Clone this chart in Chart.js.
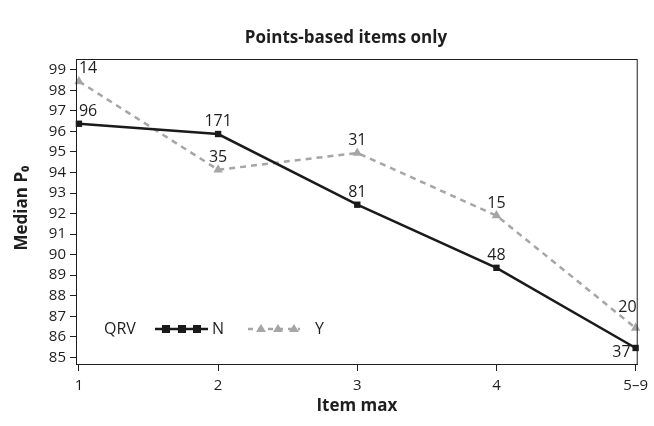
<!DOCTYPE html>
<html>
<head>
<meta charset="utf-8">
<script src="https://cdn.jsdelivr.net/npm/chart.js@4"></script>
<style>
  html, body { margin: 0; padding: 0; background: #fff; }
  #wrap { width: 654px; height: 426px; }
</style>
</head>
<body>
<div id="wrap"><canvas id="chart" width="654" height="426"></canvas></div>
<script>
const categories = ['1', '2', '3', '4', '5\u20139'];
const yTicks = [85, 86, 87, 88, 89, 90, 91, 92, 93, 94, 95, 96, 97, 98, 99];

// median P0, QRV = N
const medianN = [96.37, 95.87, 92.43, 89.36, 85.46];
const countN = [96, 171, 81, 48, 37];

// median P0, QRV = Y
const medianY = [98.43, 94.13, 94.95, 91.9, 86.43];
const countY = [14, 35, 31, 15, 20];

const FONT = '"Open Sans", "Noto Sans", sans-serif';
const INK = '#1e1e1e';

function toPoints(values) {
    return values.map((v, i) => ({ x: i + 1, y: v }));
}

// counts above the markers, box, title, legend
const extras = {
    id: 'extras',
    afterDatasetsDraw(chart) {
        const ctx = chart.ctx;
        const area = chart.chartArea;
        ctx.save();

        ctx.strokeStyle = INK;
        ctx.lineWidth = 1;
        ctx.strokeRect(area.left + 0.5, area.top + 0.5, area.right - area.left - 1, area.bottom - area.top);

        ctx.fillStyle = INK;
        ctx.font = '16px ' + FONT;
        chart.data.datasets.forEach((ds, di) => {
            const meta = chart.getDatasetMeta(di);
            meta.data.forEach((pt, i) => {
                const last = i === meta.data.length - 1;
                let x = pt.x, y = pt.y - 8;
                ctx.textAlign = 'center';
                ctx.textBaseline = 'alphabetic';
                if (i === 0) {
                    ctx.textAlign = 'left';
                    x = pt.x;
                } else if (last && ds.lastLabel === 'left') {
                    ctx.textAlign = 'right';
                    ctx.textBaseline = 'middle';
                    x = pt.x - 5;
                    y = pt.y + 4;
                } else if (last) {
                    ctx.textAlign = 'right';
                    x = pt.x + 1;
                    y = pt.y - 16;
                }
                ctx.fillText(String(ds.counts[i]), x, y);
            });
        });

        // title + axis titles
        ctx.font = 'bold 17px ' + FONT;
        ctx.textAlign = 'center';
        ctx.textBaseline = 'middle';
        ctx.fillText('Points-based items only', 346, 38);
        ctx.fillText('Item max', (area.left + area.right) / 2, 406);
        ctx.save();
        ctx.translate(22, 208);
        ctx.rotate(-Math.PI / 2);
        ctx.fillText('Median P\u2080', 0, 0);
        ctx.restore();

        // legend
        const ly = 329;
        ctx.font = '16px ' + FONT;
        ctx.textAlign = 'left';
        ctx.fillText('QRV', 104, ly);

        ctx.strokeStyle = '#1a1a1a';
        ctx.lineWidth = 2.5;
        ctx.beginPath();
        ctx.moveTo(155, ly);
        ctx.lineTo(208, ly);
        ctx.stroke();
        ctx.fillStyle = '#1a1a1a';
        [166, 182, 197].forEach(x => ctx.fillRect(x - 4, ly - 4, 8, 8));
        ctx.fillStyle = INK;
        ctx.fillText('N', 212, ly);

        ctx.strokeStyle = '#a6a6a6';
        ctx.setLineDash([5, 5]);
        ctx.beginPath();
        ctx.moveTo(248, ly);
        ctx.lineTo(300, ly);
        ctx.stroke();
        ctx.setLineDash([]);
        ctx.fillStyle = '#a6a6a6';
        [261, 278, 294].forEach(x => {
            ctx.beginPath();
            ctx.moveTo(x, ly - 5);
            ctx.lineTo(x + 5, ly + 3);
            ctx.lineTo(x - 5, ly + 3);
            ctx.closePath();
            ctx.fill();
        });
        ctx.fillStyle = INK;
        ctx.fillText('Y', 315, ly);

        ctx.restore();
    }
};

new Chart(document.getElementById('chart'), {
    type: 'line',
    data: {
        datasets: [
            {
                label: 'N',
                data: toPoints(medianN),
                counts: countN,
                lastLabel: 'left',
                borderColor: '#1a1a1a',
                backgroundColor: '#1a1a1a',
                borderWidth: 2.5,
                pointStyle: 'rect',
                pointRadius: 4.5,
                pointBorderWidth: 0,
                tension: 0,
                clip: false
            },
            {
                label: 'Y',
                data: toPoints(medianY),
                counts: countY,
                lastLabel: 'above',
                borderColor: '#a6a6a6',
                backgroundColor: '#a6a6a6',
                borderWidth: 2.5,
                borderDash: [6, 5],
                pointStyle: 'triangle',
                pointRadius: 5.5,
                pointBorderWidth: 0,
                tension: 0,
                clip: false
            }
        ]
    },
    options: {
        responsive: false,
        animation: false,
        layout: { padding: { top: 59, right: 12, left: 0, bottom: 0 } },
        plugins: {
            legend: { display: false },
            title: { display: false },
            tooltip: { enabled: false }
        },
        scales: {
            x: {
                type: 'linear',
                min: 0.979,
                max: 5.015,
                afterFit(scale) { scale.height = 62; },
                afterBuildTicks(scale) {
                    scale.ticks = categories.map((c, i) => ({ value: i + 1 }));
                },
                ticks: {
                    callback: v => categories[v - 1],
                    color: INK,
                    font: { family: FONT, size: 15 },
                    padding: 6,
                    maxRotation: 0
                },
                grid: { drawOnChartArea: false, drawTicks: true, tickLength: 7, color: INK },
                border: { display: true, color: INK, width: 1 }
            },
            y: {
                min: 84.68,
                max: 99.52,
                afterFit(scale) { scale.width = 76; },
                afterBuildTicks(scale) {
                    scale.ticks = yTicks.map(v => ({ value: v }));
                },
                ticks: {
                    color: INK,
                    font: { family: FONT, size: 15 },
                    padding: 4
                },
                grid: { drawOnChartArea: false, drawTicks: true, tickLength: 6, color: INK },
                border: { display: true, color: INK, width: 1 }
            }
        }
    },
    plugins: [extras]
});
</script>
</body>
</html>
